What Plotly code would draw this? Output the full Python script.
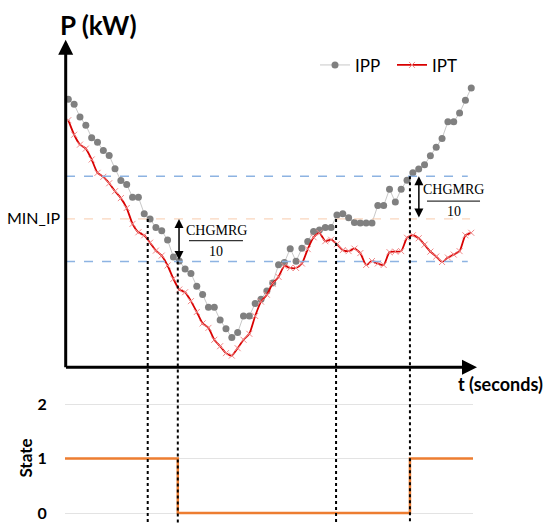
import plotly.graph_objects as go

# ---------------- data ----------------
t = list(range(70))  # seconds

ipp = [270.7, 265.7, 253, 244.7, 232, 227.3, 219, 214, 200.7, 188.7,
       184.7, 172, 172, 155.3, 150, 141.3, 138, 128.7, 111.5, 107.5,
       99.5, 95, 82, 73.7, 60.7, 60.7, 48, 39, 30.3, 35.3,
       52, 52, 64.7, 69, 77.3, 85.3, 103.7, 106, 120, 107.3,
       120.3, 127.3, 137.3, 138.7, 141.3, 141.3, 154, 155.3, 151.3, 146.3,
       146, 146, 146, 163.5, 163.5, 180, 167, 180, 189, 196.5,
       200.5, 204.7, 213.7, 222.3, 231.3, 248, 248, 257, 269.7, 282.3]

ipt = [249.7, 235, 225, 221, 210, 196.5, 192.5, 186, 178, 171,
       161, 145, 136.5, 133.5, 126, 118, 113, 103, 89.5, 78.7,
       76, 67, 56, 44.5, 40, 28, 21.5, 14.5, 12, 19.5,
       28, 34, 52, 66.5, 73.5, 84.7, 91.5, 102.5, 100.5, 100.5,
       105, 119.5, 131.5, 136, 127.5, 129, 124.5, 118.5, 117.5, 120,
       115.5, 103.5, 107.5, 105, 103.5, 116.5, 117, 117.5, 131, 133.5,
       130.5, 124, 117, 112, 106.5, 111, 114, 117.5, 133.5, 136]

MIN_IP = 150
HIGH_TH = 193      # MIN_IP + CHGMRG/10
LOW_TH = 107       # MIN_IP - CHGMRG/10

events = [13.6, 18.75, 45.85, 58.5]
event_levels = [MIN_IP, LOW_TH, MIN_IP, HIGH_TH]

state_t = [-0.6, 18.75, 58.5, 69.4]
state_v = [1, 0, 1, 1]
state_ticks = [0, 1, 2]

# ---------------- figure ----------------
fig = go.Figure()

fig.add_trace(go.Scatter(
    x=t, y=ipp, mode='lines+markers', name='IPP',
    line=dict(color='#C8C8C8', width=1),
    marker=dict(color='#808080', size=7),
    xaxis='x', yaxis='y'))

fig.add_trace(go.Scatter(
    x=t, y=ipt, mode='lines+markers', name='IPT',
    line=dict(color='#D90000', width=1.8, shape='spline', smoothing=0.6),
    marker=dict(symbol='x-thin', size=6, color='#F08A8A',
                line=dict(color='#F08A8A', width=1)),
    xaxis='x', yaxis='y'))

fig.add_trace(go.Scatter(
    x=state_t, y=state_v, mode='lines', name='State', showlegend=False,
    line=dict(color='#ED7D31', width=2.5, shape='hv'),
    xaxis='x2', yaxis='y2'))

shapes = []
# threshold lines
for lvl in [HIGH_TH, LOW_TH]:
    shapes.append(dict(type='line', xref='x', yref='y', x0=-0.39, x1=68.4,
                       y0=lvl, y1=lvl, line=dict(color='#8DB3E2', width=1.5, dash='dash')))
shapes.append(dict(type='line', xref='x', yref='y', x0=-0.39, x1=68.8,
                   y0=MIN_IP, y1=MIN_IP,
                   line=dict(color='#F8CBAD', width=1, dash='dash')))
# event dotted verticals
for ev, lvl in zip(events, event_levels):
    shapes.append(dict(type='line', xref='x', yref='y', x0=ev, x1=ev,
                       y0=lvl, y1=-157, layer='above',
                       line=dict(color='black', width=2, dash='dot')))
# fraction bars
shapes.append(dict(type='line', xref='x', yref='y', x0=20.67, x1=29.91,
                   y0=128, y1=128, line=dict(color='black', width=1)))
shapes.append(dict(type='line', xref='x', yref='y', x0=61.42, x1=70.5,
                   y0=168, y1=168, line=dict(color='black', width=1)))

serif = dict(family='Liberation Serif', size=14, color='black')
C = dict(xanchor='center', yanchor='middle', showarrow=False)
annotations = [
    # axis arrows
    dict(xref='x', yref='y', axref='x', ayref='y', x=-0.445, y=331,
         ax=-0.445, ay=-1.2, text='', showarrow=True, arrowhead=2,
         arrowsize=1, arrowwidth=3, arrowcolor='black'),
    dict(xref='x', yref='y', axref='x', ayref='y', x=69.98, y=0.3,
         ax=-0.65, ay=0.3, text='', showarrow=True, arrowhead=2,
         arrowsize=1, arrowwidth=3, arrowcolor='black'),
    # CHGMRG double arrows
    dict(xref='x', yref='y', axref='x', ayref='y', x=18.96, y=MIN_IP,
         ax=18.96, ay=LOW_TH, text='', showarrow=True, arrowhead=2,
         arrowside='end+start', arrowsize=1.2, arrowwidth=1.5, arrowcolor='black'),
    dict(xref='x', yref='y', axref='x', ayref='y', x=60.03, y=HIGH_TH,
         ax=60.03, ay=MIN_IP, text='', showarrow=True, arrowhead=2,
         arrowside='end+start', arrowsize=1.2, arrowwidth=1.5, arrowcolor='black'),
    # fraction texts
    dict(xref='x', yref='y', x=25.3, y=138, text='CHGMRG', font=serif, **C),
    dict(xref='x', yref='y', x=25.3, y=117, text='10', font=serif, **C),
    dict(xref='x', yref='y', x=65.96, y=180, text='CHGMRG', font=serif, **C),
    dict(xref='x', yref='y', x=65.96, y=157, text='10', font=serif, **C),
    # labels
    dict(xref='paper', yref='paper', x=98 / 546, y=1 - 22 / 525, text='P (kW)',
         font=dict(family='Lato', size=26, color='black', weight='bold'), **C),
    dict(xref='paper', yref='paper', x=500 / 546, y=1 - 385 / 525, text='t (seconds)',
         font=dict(family='Lato', size=18, color='black', weight='bold'), **C),
    dict(xref='paper', yref='y', x=33.5 / 546, y=MIN_IP + 1, text='MIN_IP',
         font=dict(family='Lato', size=16, color='black'), **C),
    dict(xref='paper', yref='paper', x=26 / 546, y=1 - 460 / 525, text='State',
         textangle=-90,
         font=dict(family='Lato', size=17, color='black', weight='bold'), **C),
]

fig.update_layout(
    width=546, height=525,
    margin=dict(l=0, r=0, t=0, b=0),
    paper_bgcolor='white', plot_bgcolor='rgba(0,0,0,0)',
    showlegend=True,
    legend=dict(orientation='h', x=315 / 546, y=1 - 63 / 525,
                xanchor='left', yanchor='middle',
                bgcolor='rgba(0,0,0,0)', entrywidth=32, entrywidthmode='pixels',
                font=dict(family='Lato', size=17, color='black')),
    xaxis=dict(domain=[0, 1], range=[-11.695, 81.798], visible=False),
    yaxis=dict(domain=[0, 1], range=[-157, 368], visible=False),
    xaxis2=dict(domain=[65 / 546, 473 / 546], range=[-0.565, 69.298],
                anchor='y2', visible=False),
    yaxis2=dict(domain=[1 - 522 / 525, 1 - 398 / 525], range=[-0.12727, 2.12727],
                anchor='x2', tickvals=state_ticks, showgrid=True,
                gridcolor='#E3E3E3', gridwidth=1, zeroline=False, showline=False,
                ticks='outside', ticklen=14, tickcolor='rgba(0,0,0,0)',
                tickfont=dict(family='Lato', size=16, color='black', weight='bold')),
    shapes=shapes,
    annotations=annotations,
)

fig.write_html('out.html',
               config={'displayModeBar': False},
               post_script="document.body.style.margin='0';document.body.style.overflow='hidden';")
